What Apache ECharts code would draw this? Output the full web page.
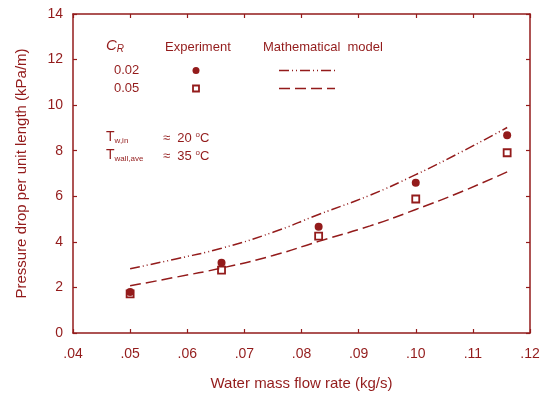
<!DOCTYPE html>
<html>
<head>
<meta charset="utf-8">
<script src="https://cdn.jsdelivr.net/npm/echarts@6/dist/echarts.min.js"></script>
<style>
  html, body { margin: 0; padding: 0; background: #fff; }
  #chart { width: 551px; height: 394px; }
</style>
</head>
<body>
<div id="chart"></div>
<script>
// 实验点 (water flow rate, kg/s)
const expFlow = [0.05, 0.066, 0.083, 0.10, 0.116];
const expCr002 = [1.8, 3.08, 4.66, 6.59, 8.68];
const expCr005 = [1.72, 2.76, 4.25, 5.88, 7.91];

// 模型曲线
const modelFlow = [0.05, 0.058, 0.066, 0.075, 0.083, 0.092, 0.10, 0.108, 0.116];
const modelCr002 = [2.82, 3.25, 3.72, 4.42, 5.2, 6.05, 6.95, 7.95, 9.02];
const modelCr005 = [2.07, 2.45, 2.85, 3.4, 4.02, 4.7, 5.42, 6.2, 7.07];

const RED = '#931b1b';
const FONT = '"Liberation Sans", Arial, sans-serif';

const pairs = (xs, ys) => xs.map((x, i) => [x, ys[i]]);

const chart = echarts.init(document.getElementById('chart'));

const lineDashDot = [10, 3, 1, 3, 1, 3];
const lineDash = [11, 5];

const frameAxis = {
  axisLine: { show: true, onZero: false, lineStyle: { color: RED, width: 1.5 } },
  axisTick: { show: true, inside: true, length: 4, lineStyle: { color: RED, width: 1.2 } },
  splitLine: { show: false },
};

chart.setOption({
  animation: false,
  textStyle: { fontFamily: FONT, color: RED },
  grid: { left: 73, right: 21, top: 14, bottom: 61, outerBoundsMode: 'none' },
  xAxis: [
    {
      type: 'value',
      min: 0.04,
      max: 0.12,
      interval: 0.01,
      name: 'Water mass flow rate (kg/s)',
      nameLocation: 'middle',
      nameGap: 43,
      nameTextStyle: { color: RED, fontSize: 15, fontFamily: FONT },
      ...frameAxis,
      axisLabel: {
        color: RED, fontSize: 14, margin: 14, fontFamily: FONT,
        formatter: (v) => v.toFixed(2).replace(/^0/, ''),
      },
    },
    {
      type: 'value',
      position: 'top',
      min: 0.04,
      max: 0.12,
      interval: 0.01,
      ...frameAxis,
      axisLabel: { show: false },
    },
  ],
  yAxis: [
    {
      type: 'value',
      min: 0,
      max: 14,
      interval: 2,
      name: 'Pressure drop per unit length (kPa/m)',
      nameLocation: 'middle',
      nameGap: 44,
      nameTextStyle: { color: RED, fontSize: 15, fontFamily: FONT },
      ...frameAxis,
      axisLabel: { color: RED, fontSize: 14, margin: 10, fontFamily: FONT },
    },
    {
      type: 'value',
      position: 'right',
      min: 0,
      max: 14,
      interval: 2,
      ...frameAxis,
      axisLabel: { show: false },
    },
  ],
  series: [
    {
      name: 'model 0.02',
      type: 'line',
      smooth: true,
      showSymbol: false,
      data: pairs(modelFlow, modelCr002),
      lineStyle: { color: RED, width: 1.5, type: lineDashDot },
    },
    {
      name: 'model 0.05',
      type: 'line',
      smooth: true,
      showSymbol: false,
      data: pairs(modelFlow, modelCr005),
      lineStyle: { color: RED, width: 1.5, type: lineDash },
    },
    {
      name: 'exp 0.05',
      type: 'scatter',
      symbol: 'rect',
      symbolSize: 7,
      data: pairs(expFlow, expCr005),
      itemStyle: { color: '#fff', borderColor: RED, borderWidth: 1.8, opacity: 1 },
    },
    {
      name: 'exp 0.02',
      type: 'scatter',
      symbol: 'circle',
      symbolSize: 8,
      data: pairs(expFlow, expCr002),
      itemStyle: { color: RED, opacity: 1 },
    },
  ],
  graphic: [
    // 图例
    {
      type: 'text', left: 106, top: 38,
      style: {
        text: '{c|C}{s|R}', fill: RED, font: '14px ' + FONT,
        rich: {
          c: { fontStyle: 'italic', fontSize: 15, fill: RED, fontFamily: FONT },
          s: { fontStyle: 'italic', fontSize: 10, fill: RED, fontFamily: FONT, padding: [8, 0, 0, 0] },
        },
      },
    },
    { type: 'text', left: 165, top: 41, style: { text: 'Experiment', fill: RED, font: '13px ' + FONT } },
    { type: 'text', left: 263, top: 41, style: { text: 'Mathematical  model', fill: RED, font: '13px ' + FONT } },
    { type: 'text', left: 114, top: 64, style: { text: '0.02', fill: RED, font: '13px ' + FONT } },
    { type: 'text', left: 114, top: 82, style: { text: '0.05', fill: RED, font: '13px ' + FONT } },
    { type: 'circle', shape: { cx: 196, cy: 70.5, r: 3.5 }, style: { fill: RED } },
    { type: 'rect', shape: { x: 193, y: 85.5, width: 6, height: 6 }, style: { fill: '#fff', stroke: RED, lineWidth: 1.8 } },
    {
      type: 'line', shape: { x1: 279, y1: 70.5, x2: 335, y2: 70.5 },
      style: { stroke: RED, lineWidth: 1.5, lineDash: lineDashDot },
    },
    {
      type: 'line', shape: { x1: 279, y1: 88.5, x2: 335, y2: 88.5 },
      style: { stroke: RED, lineWidth: 1.5, lineDash: lineDash },
    },
    {
      type: 'text', left: 106, top: 130,
      style: {
        text: '{t|T}{s|w,in}', fill: RED,
        rich: {
          t: { fontSize: 14, fill: RED, fontFamily: FONT },
          s: { fontSize: 8, fill: RED, fontFamily: FONT, padding: [8, 0, 0, 0] },
        },
      },
    },
    {
      type: 'text', left: 106, top: 148,
      style: {
        text: '{t|T}{s|wall,ave}', fill: RED,
        rich: {
          t: { fontSize: 14, fill: RED, fontFamily: FONT },
          s: { fontSize: 8, fill: RED, fontFamily: FONT, padding: [8, 0, 0, 0] },
        },
      },
    },
    {
      type: 'text', left: 163, top: 131,
      style: {
        text: '≈  20 {o|o}C', fill: RED, font: '13px ' + FONT,
        rich: { o: { fontSize: 8, fill: RED, fontFamily: FONT, padding: [0, 0, 7, 0] } },
      },
    },
    {
      type: 'text', left: 163, top: 149,
      style: {
        text: '≈  35 {o|o}C', fill: RED, font: '13px ' + FONT,
        rich: { o: { fontSize: 8, fill: RED, fontFamily: FONT, padding: [0, 0, 7, 0] } },
      },
    },
  ],
});

window.addEventListener('resize', () => chart.resize());
</script>
</body>
</html>
